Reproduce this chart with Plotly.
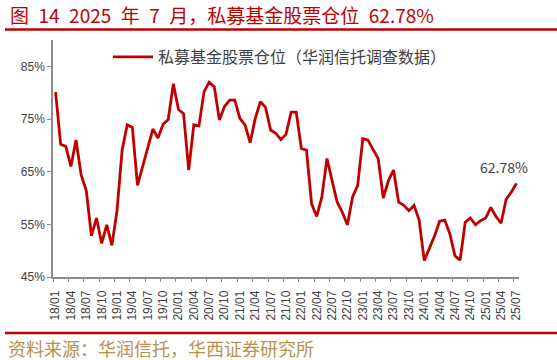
import plotly.graph_objects as go

# ---- data ----
years = list(range(2018, 2026))
months = [f"{y % 100:02d}/{m:02d}" for y in years for m in range(1, 13)]
months = months[: months.index("25/07") + 1]

position = [
    80.1, 70.2, 69.8, 66.0, 71.0, 64.4, 61.4, 52.8, 56.2, 51.4, 54.9, 51.0,   # 2018
    57.6, 69.1, 73.9, 73.4, 62.4, 65.8, 69.3, 73.1, 71.4, 74.0, 74.9, 81.7,   # 2019
    76.8, 76.0, 65.3, 73.9, 73.7, 80.2, 82.0, 81.1, 74.8, 77.4, 78.6, 78.6,   # 2020
    75.1, 73.9, 70.5, 75.1, 78.3, 77.2, 72.9, 72.3, 71.1, 72.1, 76.3, 76.3,   # 2021
    69.4, 69.1, 58.9, 56.5, 60.2, 67.5, 63.3, 59.2, 57.3, 54.9, 60.2, 62.4,   # 2022
    71.3, 71.0, 69.2, 67.5, 60.0, 63.3, 65.3, 59.2, 58.6, 57.6, 58.6, 55.8,   # 2023
    48.1, 50.3, 52.8, 55.6, 55.8, 53.2, 49.0, 48.2, 55.4, 56.2, 54.9, 55.7,   # 2024
    56.2, 58.2, 56.5, 55.2, 59.8, 61.1, 62.78,                                # 2025
]

series_name = "私募基金股票仓位（华润信托调查数据）"
title_text = "图\u200214\u20022025\u2002年\u20027\u2002月，私募基金股票仓位\u200262.78%"
source_text = "资料来源：华润信托，华西证券研究所"
y_ticks = [45, 55, 65, 75, 85]
label_step = 3

idx = list(range(len(position)))
label_idx = idx[::label_step]
label_txt = [months[i] for i in label_idx]

RED = "#C00000"
AXIS = "#8C8C8C"
TXT = "#404040"
GOLD = "#B8904F"

W, H = 557, 360
ML, MR, MT, MB = 53, 38, 40, 83
pw, ph = W - ML - MR, H - MT - MB


def px_x(p):
    return (p - ML) / pw


def px_y(p):
    return (H - MB - p) / ph


fig = go.Figure()
fig.add_trace(go.Scatter(
    x=idx, y=position, mode="lines", name=series_name,
    line=dict(color=RED, width=2.8), xaxis="x", yaxis="y",
    hoverinfo="skip",
))
# invisible helper trace for boundary tick axis
fig.add_trace(go.Scatter(
    x=idx, y=position, mode="lines", showlegend=False,
    line=dict(color="rgba(0,0,0,0)", width=0), xaxis="x2", yaxis="y",
    hoverinfo="skip",
))

xr = [-0.5, len(position) - 0.5]
fig.update_layout(
    width=W, height=H,
    margin=dict(l=ML, r=MR, t=MT, b=MB),
    paper_bgcolor="white", plot_bgcolor="white",
    showlegend=True,
    legend=dict(
        x=px_x(108), y=px_y(57), xanchor="left", yanchor="middle",
        font=dict(family="Noto Sans CJK SC", size=16, color=TXT),
        bgcolor="rgba(0,0,0,0)", itemwidth=40,
    ),
    xaxis=dict(
        range=xr, tickmode="array", tickvals=label_idx, ticktext=label_txt,
        tickangle=-90, ticks="outside", ticklen=7, tickcolor="rgba(0,0,0,0)",
        showline=True, linecolor=AXIS, linewidth=1.5, showgrid=False, zeroline=False,
        tickfont=dict(family="Liberation Sans", size=12, color=TXT),
    ),
    xaxis2=dict(
        range=xr, overlaying="x", anchor="y", side="bottom",
        tickmode="array", tickvals=[i - 0.5 for i in label_idx],
        ticks="outside", ticklen=4, tickcolor=AXIS, tickwidth=1.2,
        showticklabels=False, showline=False, showgrid=False, zeroline=False,
    ),
    yaxis=dict(
        range=[45, 90], tickmode="array", tickvals=y_ticks,
        ticktext=[f"{v}%" for v in y_ticks],
        ticks="outside", ticklen=4, tickcolor=AXIS, tickwidth=1.2,
        showline=True, linecolor=AXIS, linewidth=1.5, showgrid=False, zeroline=False,
        tickfont=dict(family="Liberation Sans", size=12, color=TXT),
    ),
)

fig.add_annotation(
    x=idx[-1], y=position[-1], xref="x", yref="y",
    text=f"{position[-1]:.2f}%", showarrow=False,
    xanchor="center", yanchor="bottom", xshift=-12, yshift=4,
    font=dict(family="Noto Sans CJK SC", size=14, color=TXT),
)
fig.add_annotation(
    x=px_x(8), y=px_y(15), xref="paper", yref="paper",
    text=title_text, showarrow=False, xanchor="left", yanchor="middle",
    font=dict(family="Noto Sans CJK SC", size=19, color=RED),
)
fig.add_annotation(
    x=px_x(6), y=px_y(348), xref="paper", yref="paper",
    text=source_text, showarrow=False, xanchor="left", yanchor="middle",
    font=dict(family="Noto Sans CJK SC", size=18, color=GOLD),
)
for yy in (29.5, 333):
    fig.add_shape(
        type="line", xref="paper", yref="paper",
        x0=px_x(5), x1=px_x(557), y0=px_y(yy), y1=px_y(yy),
        line=dict(color=RED, width=2.5),
    )

fig.write_html("out.html")
